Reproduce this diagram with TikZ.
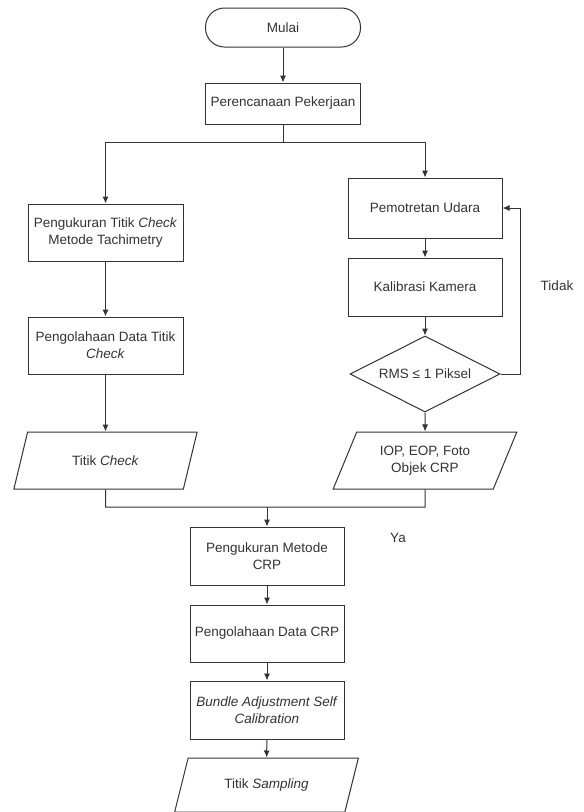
\documentclass[tikz,border=0pt]{standalone}
\usepackage{fontspec}
\setmainfont{Liberation Sans}
\usetikzlibrary{shapes.geometric,arrows.meta}
\definecolor{garis}{gray}{0.2}

\begin{document}
\begin{tikzpicture}[x=1pt, y=-1pt, >={Latex[length=7pt,width=6pt]}, line width=1pt,
		font=\fontsize{13.5}{17}\selectfont, text=garis, draw=garis,
		proses/.style={draw=garis, rectangle, minimum width=154pt, minimum height=58pt, align=center, inner sep=2pt},
		mulaibox/.style={draw=garis, rectangle, rounded corners=19pt, minimum width=155pt, minimum height=39pt},
		datanya/.style={draw=garis, trapezium, trapezium left angle=63, trapezium right angle=117,
			trapezium stretches=true, minimum width=184pt, minimum height=57pt, align=center, inner sep=1pt},
		keputusan/.style={draw=garis, diamond, aspect=2, minimum width=150pt, minimum height=76pt, inner sep=0pt}]
			\useasboundingbox (0,0) rectangle (584,812);

			% Start and planning
			\node[mulaibox] (mulai) at (283,27.5) {Mulai};
			\node[proses, minimum width=155pt, minimum height=41pt] (rencana) at (283,103.5) {Perencanaan Pekerjaan};
			\coordinate (cabang) at (283,142);

			% Left branch
			\node[proses, minimum width=155pt, minimum height=57pt] (ukurcek) at (105.5,232.5) {Pengukuran Titik \textit{Check}\\Metode Tachimetry};
			\node[proses, minimum width=155pt, minimum height=57pt] (olahcek) at (105.5,345.5) {Pengolahaan Data Titik\\\textit{Check}};
			\node[datanya] (titikcek) at (105.5,460.5) {Titik \textit{Check}};

			% Right branch
			\node[proses, minimum height=60pt] (foto) at (425,208) {Pemotretan Udara};
			\node[proses] (kalib) at (425,287) {Kalibrasi Kamera};
			\node[keputusan] (rms) at (425,374) {RMS ≤ 1 Piksel};
			\node[datanya] (iop) at (425,460.5) {IOP, EOP, Foto\\Objek CRP};
			\coordinate (balik) at (520,374);

			% Joining
			\coordinate (kiri) at (105.5,507);
			\coordinate (kanan) at (425,507);
			\coordinate (gabung) at (267,507);

			% Lower column
			\node[proses] (crp) at (267,556) {Pengukuran Metode\\CRP};
			\node[proses, minimum height=57pt] (olahcrp) at (267,633.5) {Pengolahaan Data CRP};
			\node[proses] (bundle) at (267,710) {\textit{Bundle Adjustment Self}\\\textit{Calibration}};
			\node[datanya, minimum height=54pt] (sampling) at (266.5,785) {Titik \textit{Sampling}};

			% Labels
			\node (tidak) at (557,286) {Tidak};
			\node (ya) at (398,538) {Ya};

			% Connectors
			\draw[garis] (rencana) -- (cabang);
			\draw[garis, ->] (cabang) -| (ukurcek);
			\draw[garis, ->] (cabang) -| (foto);
			\foreach \a/\b in {mulai/rencana, ukurcek/olahcek, olahcek/titikcek, foto/kalib, kalib/rms, rms/iop, crp/olahcrp, olahcrp/bundle, bundle/sampling}
				\draw[garis, ->] (\a) -- (\b);
			\draw[garis, ->] (rms.east) -- (balik) |- (foto.east);
			\draw[garis] (titikcek.south) -- (kiri) -- (kanan) -- (iop.south);
			\draw[garis, ->] (gabung) -- (crp);

		\end{tikzpicture}
\end{document}
